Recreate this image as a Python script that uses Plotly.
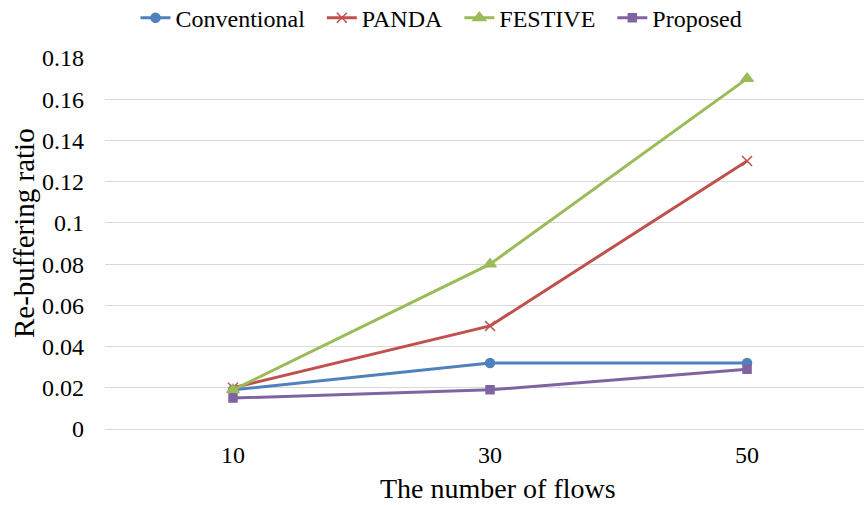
import plotly.graph_objects as go

categories = ["10", "30", "50"]
conventional = [0.019, 0.032, 0.032]
panda = [0.020, 0.050, 0.130]
festive = [0.019, 0.080, 0.170]
proposed = [0.015, 0.019, 0.029]
y_ticks = [0, 0.02, 0.04, 0.06, 0.08, 0.1, 0.12, 0.14, 0.16, 0.18]
y_tick_labels = ["0", "0.02", "0.04", "0.06", "0.08", "0.1", "0.12", "0.14", "0.16", "0.18"]
x_title = "The number of flows"
y_title = "Re-buffering ratio"

PAD = "\u00a0\u00a0"
series = [
    ("Conventional", conventional, "#4F81BD", "circle", 9, PAD),
    ("PANDA", panda, "#C0504D", "x-thin-open", 10, PAD),
    ("FESTIVE", festive, "#9BBB59", "triangle-up", 11, PAD),
    ("Proposed", proposed, "#8064A2", "square", 8, ""),
]

FONT = "Liberation Serif"

fig = go.Figure()
for name, vals, color, sym, sz, pad in series:
    fig.add_trace(go.Scatter(
        x=categories, y=vals, name=name + pad, mode="lines+markers",
        line=dict(color=color, width=3),
        marker=dict(symbol=sym, size=sz, color=color, line=dict(color=color, width=1.5)),
    ))

fig.update_layout(
    width=864, height=505,
    margin=dict(l=105, r=0, t=58, b=76, autoexpand=False),
    paper_bgcolor="white", plot_bgcolor="white",
    font=dict(family=FONT, size=24, color="black"),
    legend=dict(orientation="h", x=0.511, xanchor="center", xref="container",
                y=0.964, yanchor="middle", yref="container",
                font=dict(family=FONT, size=24, color="black"),
                itemwidth=30),
    showlegend=True,
    annotations=[
        dict(text=x_title, xref="paper", yref="paper", x=(498 - 105) / 759,
             y=-(488 - 429) / 371, xanchor="center", yanchor="middle",
             showarrow=False, font=dict(family=FONT, size=28, color="black")),
        dict(text=y_title, xref="paper", yref="paper", x=(24 - 105) / 759,
             y=(429 - 233) / 371, xanchor="center", yanchor="middle", textangle=-90,
             showarrow=False, font=dict(family=FONT, size=29, color="black")),
    ],
)
fig.update_xaxes(type="category", range=[-0.498, 2.455], showgrid=False, showline=True,
                 linecolor="#d9d9d9", linewidth=1, ticks="", ticklabelstandoff=4,
                 tickfont=dict(family=FONT, size=24, color="black"))
fig.update_yaxes(range=[0, 0.18], tickvals=y_ticks, ticktext=y_tick_labels,
                 showgrid=True, gridcolor="#d9d9d9", gridwidth=1, zeroline=False,
                 showline=False, ticks="", ticklabelstandoff=20,
                 tickfont=dict(family=FONT, size=24, color="black"))

fig.write_html("out.html")
